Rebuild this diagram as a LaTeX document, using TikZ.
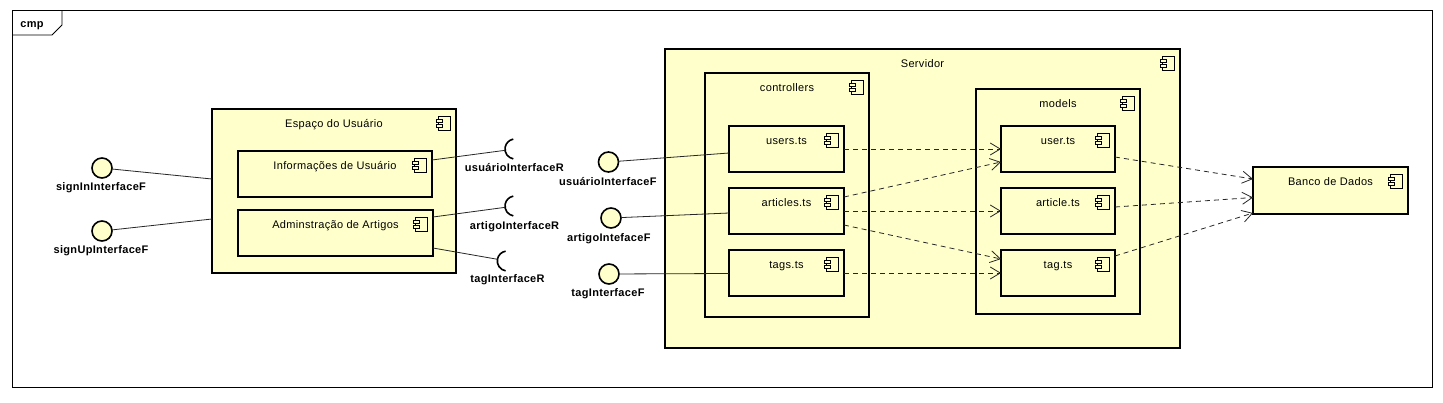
\documentclass[tikz,border=0pt]{standalone}
\usepackage{fontspec}
\setmainfont{Liberation Sans}[LetterSpace=3]
\usetikzlibrary{calc,fit,arrows.meta}
\definecolor{compfill}{HTML}{FFFFCC}
\tikzset{
 comp/.style={draw=black, fill=compfill, line width=1.8pt, inner sep=0pt, outer sep=0pt, rectangle},
 ttl/.style={font=\fontsize{11}{13}\selectfont, anchor=base, inner sep=0pt},
 lbl/.style={font=\fontsize{11}{13}\selectfont\bfseries, anchor=base, inner sep=0pt},
 prov/.style={circle, draw=black, fill=compfill, line width=1.6pt, minimum size=20pt, inner sep=0pt, outer sep=0pt},
 sock/.style={line width=1.6pt, draw=black},
 conn/.style={draw=black!85, line width=0.8pt},
 dep/.style={draw=black!85, line width=0.8pt, dash pattern=on 5pt off 4pt, -{Straight Barb[length=10pt,width=12pt,line width=0.8pt]}},
 cicon/.pic={
   \draw[line width=0.9pt, fill=compfill] (2.5,0) rectangle (14,14);
   \draw[line width=0.9pt, fill=compfill] (0,3.5) rectangle (6,6.5);
   \draw[line width=0.9pt, fill=compfill] (0,8.5) rectangle (6,11.5);
 },
}
\newcommand\cbox[6]{%
  \node[comp, fit={(#2,#3) (#4,#5)}] (#1) {};
  \node[ttl] at ($(#1.north)+(0,18)$) {#6};
  \pic at ($(#1.north east)+(-20,7)$) {cicon};
}
\begin{document}
\begin{tikzpicture}[x=1pt, y=-1pt]
\useasboundingbox (0,0) rectangle (1443,402);
\fill[white] (0,0) rectangle (1443,402);
% frame
\draw[line width=0.9pt] (12,10) rectangle (1432,387);
\draw[line width=0.9pt] (12,35) -- (52,35) -- (62,25) -- (62,10);
\node[lbl] (cmp) at (32,27.5) {cmp};
% left component
\cbox{esp}{212}{109}{456}{273}{Espaço do Usuário}
\cbox{info}{238}{151}{432}{197}{Informações de Usuário}
\cbox{admin}{238}{210}{433}{256}{Adminstração de Artigos}
% server
\cbox{serv}{665}{49}{1180}{348}{Servidor}
\cbox{ctrl}{705}{73}{869}{317}{controllers}
\cbox{users}{729}{126}{844}{172}{users.ts}
\cbox{articles}{729}{188}{844}{234}{articles.ts}
\cbox{tags}{729}{250}{844}{296}{tags.ts}
\cbox{models}{976}{89}{1140}{314}{models}
\cbox{user}{1001}{126}{1115}{172}{user.ts}
\cbox{article}{1001}{188}{1115}{234}{article.ts}
\cbox{tag}{1001}{250}{1115}{296}{tag.ts}
\cbox{banco}{1253}{167}{1408}{214}{Banco de Dados}
% provided interfaces
\node[prov] (signIn) at (102,168) {};
\node[prov] (signUp) at (102,231) {};
\node[prov] (uF) at (608.5,162) {};
\node[prov] (aF) at (611,218) {};
\node[prov] (tF) at (609,274) {};
\node[lbl] at (101,190.5) {signInInterfaceF};
\node[lbl] at (101,253.5) {signUpInterfaceF};
\node[lbl] at (607.8,185) {usuárioInterfaceF};
\node[lbl] at (608.8,241.5) {artigoIntefaceF};
\node[lbl] at (608,296.5) {tagInterfaceF};
% required interfaces
\coordinate (uR) at (515,149);
\coordinate (aR) at (515,206);
\coordinate (tR) at (507.3,261);
\foreach \c in {uR,aR,tR}{
  \draw[sock] ($(\c)+(100:10)$) arc[start angle=100, end angle=260, radius=10];
}
\node[lbl] at (514.3,171.5) {usuárioInterfaceR};
\node[lbl] at (514.5,229) {artigoInterfaceR};
\node[lbl] at (507.5,282.5) {tagInterfaceR};
% solid connectors
\draw[conn] (signIn) -- ($(esp.north west)+(0,70)$);
\draw[conn] (signUp) -- ($(esp.north west)+(0,110)$);
\coordinate (uRs) at ($(info.north east)+(0,9)$);
\coordinate (aRs) at ($(admin.north east)+(0,7)$);
\coordinate (tRs) at ($(admin.north east)+(0,38)$);
\draw[conn] (uRs) -- ($(uR)!10pt!(uRs)$);
\draw[conn] (aRs) -- ($(aR)!10pt!(aRs)$);
\draw[conn] (tRs) -- ($(tR)!10pt!(tRs)$);
\draw[conn] (uF) -- ($(users.north west)+(0,27)$);
\draw[conn] (aF) -- ($(articles.north west)+(0,25)$);
\draw[conn] (tF) -- ($(tags.north west)+(0,23.5)$);
% dependencies
\draw[dep] ($(users.north east)+(0,23)$) -- ($(user.north west)+(0,23)$);
\draw[dep] ($(articles.north east)+(0,9)$) -- ($(user.north west)+(0,36)$);
\draw[dep] ($(articles.north east)+(0,23)$) -- ($(article.north west)+(0,23)$);
\draw[dep] ($(articles.north east)+(0,37)$) -- ($(tag.north west)+(0,9)$);
\draw[dep] ($(tags.north east)+(0,23)$) -- ($(tag.north west)+(0,23)$);
\draw[dep] ($(user.north east)+(0,31)$) -- ($(banco.north west)+(0,12)$);
\draw[dep] ($(article.north east)+(0,19)$) -- ($(banco.north west)+(0,30.5)$);
\draw[dep] ($(tag.north east)+(0,6)$) -- ($(banco.north west)+(0,46)$);
\end{tikzpicture}
\end{document}
